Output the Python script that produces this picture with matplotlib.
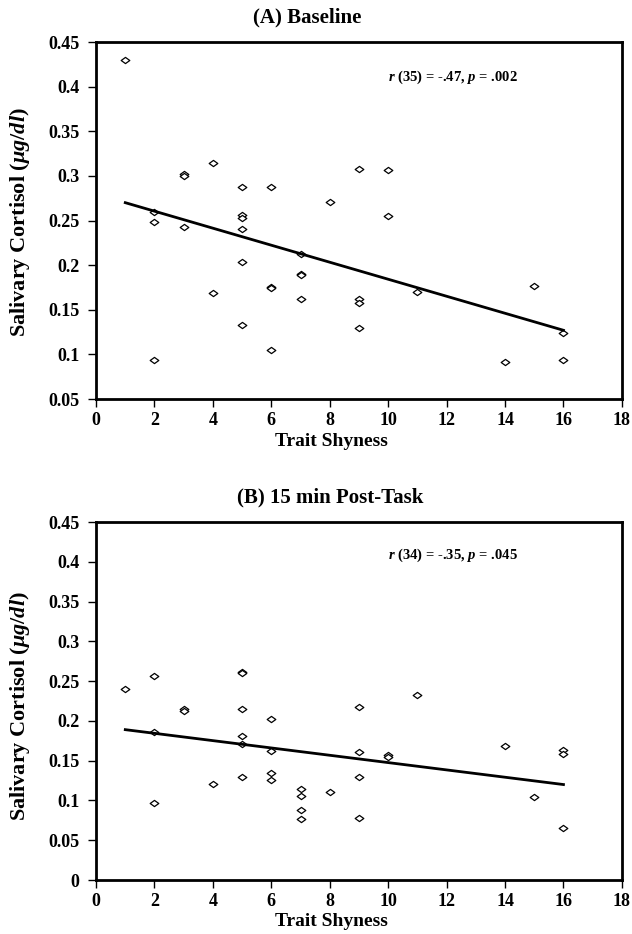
import numpy as np
import matplotlib
matplotlib.use("Agg")
import matplotlib.pyplot as plt
from matplotlib.path import Path

plt.rcParams["font.family"] = ["Liberation Serif", "DejaVu Serif"]
plt.rcParams["font.weight"] = "bold"
plt.rcParams["mathtext.fontset"] = "custom"
plt.rcParams["mathtext.rm"] = "Liberation Serif:bold"
plt.rcParams["mathtext.it"] = "Liberation Serif:italic:bold"

# (A) Baseline
shy_a = [1, 2, 2, 2, 3, 3, 3, 4, 4, 5, 5, 5, 5, 5, 5, 6, 6, 6, 6,
         7, 7, 7, 7, 8, 9, 9, 9, 9, 10, 10, 11, 14, 15, 16, 16]
cort_a = [0.430, 0.260, 0.248, 0.094, 0.302, 0.300, 0.243, 0.315, 0.169,
          0.288, 0.256, 0.253, 0.240, 0.204, 0.133, 0.288, 0.176, 0.174, 0.105,
          0.212, 0.190, 0.189, 0.162, 0.271, 0.308, 0.162, 0.158, 0.130,
          0.307, 0.255, 0.170, 0.092, 0.177, 0.124, 0.094]

# (B) 15 min Post-Task
shy_b = [1, 2, 2, 2, 3, 3, 4, 5, 5, 5, 5, 5, 5, 6, 6, 6, 6,
         7, 7, 7, 7, 8, 9, 9, 9, 9, 10, 10, 11, 14, 15, 16, 16, 16]
cort_b = [0.240, 0.256, 0.186, 0.097, 0.215, 0.213, 0.121,
          0.262, 0.260, 0.215, 0.181, 0.171, 0.129,
          0.203, 0.162, 0.134, 0.126,
          0.115, 0.105, 0.088, 0.077, 0.111,
          0.217, 0.161, 0.130, 0.078, 0.157, 0.154,
          0.232, 0.169, 0.104, 0.164, 0.159, 0.065]

# regression line end points
fit_x = [1, 16]
fit_a = [0.270, 0.127]
fit_b = [0.189, 0.120]

diamond = Path([(-1, 0), (0, 0.72), (1, 0), (0, -0.72), (-1, 0)],
               [Path.MOVETO, Path.LINETO, Path.LINETO, Path.LINETO, Path.CLOSEPOLY])

W, H = 632, 934
fig = plt.figure(figsize=(W / 100, H / 100), dpi=100)
ax1 = fig.add_axes([0.152, 0.5728, 0.832, 0.3822])
ax2 = fig.add_axes([0.152, 0.0578, 0.832, 0.3833])

panels = [
    (ax1, shy_a, cort_a, fit_a, "(A) Baseline", r"$r$ (35) = -.47, $p$ = .002",
     0.05, 0.411, (307, 17), (331, 441), 222),
    (ax2, shy_b, cort_b, fit_b, "(B) 15 min Post-Task", r"$r$ (34) = -.35, $p$ = .045",
     0.0, 0.408, (330, 497), (331, 921), 706),
]

for ax, x, y, fit, title, stat, ymin, ty, tpos, xlpos, ylc in panels:
    ax.plot(x, y, linestyle="none", marker=diamond, markersize=6.2,
            markerfacecolor="white", markeredgecolor="black", markeredgewidth=0.9)
    ax.plot(fit_x, fit, color="black", linewidth=2)
    ax.set_xlim(0, 18)
    ax.set_ylim(ymin, 0.45)
    ax.set_xticks(range(0, 19, 2))
    yt = np.arange(ymin, 0.451, 0.05)
    ax.set_yticks(yt)
    ax.set_yticklabels(["0" if abs(v) < 1e-9 else f"{v:g}" for v in yt])
    ax.tick_params(direction="out", length=6, width=1, labelsize=13)
    ax.tick_params(axis="y", pad=6)
    ax.tick_params(axis="x", pad=3)
    for s in ax.spines.values():
        s.set_linewidth(2)
    fig.text(tpos[0] / W, 1 - tpos[1] / H, title, fontsize=15, fontweight="bold",
             ha="center", va="center")
    fig.text(xlpos[0] / W, 1 - xlpos[1] / H, "Trait Shyness", fontsize=14,
             fontweight="bold", ha="center", va="center")
    fig.text(20 / W, 1 - ylc / H, r"Salivary Cortisol ($\mu g/dl$)", fontsize=16,
             fontweight="bold", ha="center", va="center", rotation=90)
    ax.text(10, ty, stat, fontsize=10.5, fontweight="bold", va="center", ha="left")

fig.savefig("out.png", dpi=100)
